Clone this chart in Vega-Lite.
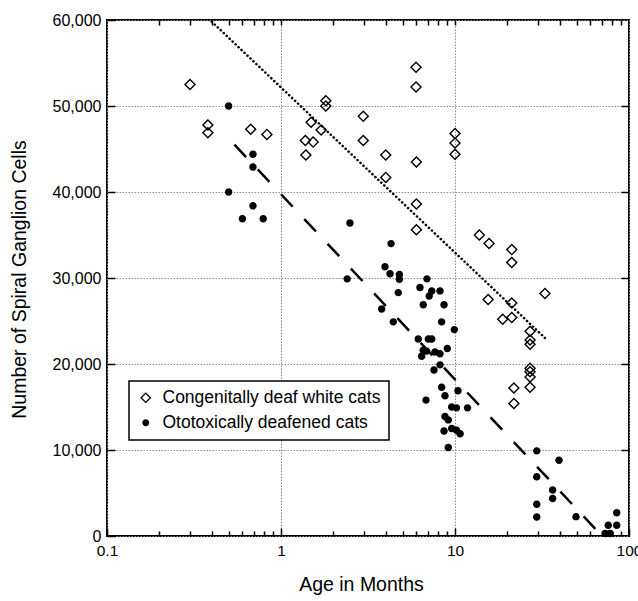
{
  "$schema": "https://vega.github.io/schema/vega-lite/v6.json",
  "width": 522,
  "height": 516,
  "autosize": {"type": "none"},
  "padding": {"left": 107, "top": 20, "right": 9, "bottom": 65},
  "background": "white",
  "config": {
    "view": {"stroke": "black", "strokeWidth": 2},
    "font": "Liberation Sans",
    "axis": {"domain": false, "labelFont": "Liberation Sans", "titleFont": "Liberation Sans", "labelColor": "black", "titleColor": "black", "tickColor": "black", "titleFontWeight": "normal", "gridColor": "#8a8a8a", "gridDash": [1.5, 1.5], "gridWidth": 1},
    "legend": {"orient": "none", "legendX": 22, "legendY": 361, "strokeColor": "black", "strokeWidth": 1.5, "fillColor": "white",
      "padding": 8, "labelFontSize": 17.5, "labelFont": "Liberation Sans", "labelColor": "black", "symbolFillColor": "black", "symbolStrokeWidth": 0, "symbolSize": 125, "rowPadding": 6, "labelOffset": 8, "labelLimit": 400}
  },
  "datasets": {
    "pts": [
      {"group": "Congenitally deaf white cats", "age": 0.30, "cells": 52500},
      {"group": "Congenitally deaf white cats", "age": 0.38, "cells": 47800},
      {"group": "Congenitally deaf white cats", "age": 0.38, "cells": 46900},
      {"group": "Congenitally deaf white cats", "age": 0.67, "cells": 47300},
      {"group": "Congenitally deaf white cats", "age": 0.83, "cells": 46700},
      {"group": "Congenitally deaf white cats", "age": 1.81, "cells": 50600},
      {"group": "Congenitally deaf white cats", "age": 1.81, "cells": 50000},
      {"group": "Congenitally deaf white cats", "age": 1.49, "cells": 48100},
      {"group": "Congenitally deaf white cats", "age": 1.70, "cells": 47200},
      {"group": "Congenitally deaf white cats", "age": 1.38, "cells": 46000},
      {"group": "Congenitally deaf white cats", "age": 1.53, "cells": 45800},
      {"group": "Congenitally deaf white cats", "age": 1.39, "cells": 44300},
      {"group": "Congenitally deaf white cats", "age": 2.97, "cells": 48800},
      {"group": "Congenitally deaf white cats", "age": 2.97, "cells": 46000},
      {"group": "Congenitally deaf white cats", "age": 5.97, "cells": 54500},
      {"group": "Congenitally deaf white cats", "age": 5.97, "cells": 52200},
      {"group": "Congenitally deaf white cats", "age": 4.0, "cells": 44300},
      {"group": "Congenitally deaf white cats", "age": 4.0, "cells": 41700},
      {"group": "Congenitally deaf white cats", "age": 6.0, "cells": 43500},
      {"group": "Congenitally deaf white cats", "age": 10.0, "cells": 46800},
      {"group": "Congenitally deaf white cats", "age": 10.0, "cells": 45700},
      {"group": "Congenitally deaf white cats", "age": 10.0, "cells": 44400},
      {"group": "Congenitally deaf white cats", "age": 6.0, "cells": 38600},
      {"group": "Congenitally deaf white cats", "age": 6.0, "cells": 35600},
      {"group": "Congenitally deaf white cats", "age": 13.8, "cells": 35000},
      {"group": "Congenitally deaf white cats", "age": 15.7, "cells": 34000},
      {"group": "Congenitally deaf white cats", "age": 21.2, "cells": 33300},
      {"group": "Congenitally deaf white cats", "age": 21.2, "cells": 31800},
      {"group": "Congenitally deaf white cats", "age": 32.9, "cells": 28200},
      {"group": "Congenitally deaf white cats", "age": 15.5, "cells": 27500},
      {"group": "Congenitally deaf white cats", "age": 21.2, "cells": 27100},
      {"group": "Congenitally deaf white cats", "age": 18.8, "cells": 25200},
      {"group": "Congenitally deaf white cats", "age": 21.2, "cells": 25400},
      {"group": "Congenitally deaf white cats", "age": 27.0, "cells": 23800},
      {"group": "Congenitally deaf white cats", "age": 27.0, "cells": 22800},
      {"group": "Congenitally deaf white cats", "age": 27.0, "cells": 22300},
      {"group": "Congenitally deaf white cats", "age": 27.0, "cells": 19500},
      {"group": "Congenitally deaf white cats", "age": 27.0, "cells": 19100},
      {"group": "Congenitally deaf white cats", "age": 27.0, "cells": 18500},
      {"group": "Congenitally deaf white cats", "age": 27.0, "cells": 17300},
      {"group": "Congenitally deaf white cats", "age": 21.8, "cells": 17200},
      {"group": "Congenitally deaf white cats", "age": 21.8, "cells": 15400},
      {"group": "Ototoxically deafened cats", "age": 0.50, "cells": 50000},
      {"group": "Ototoxically deafened cats", "age": 0.69, "cells": 44400},
      {"group": "Ototoxically deafened cats", "age": 0.69, "cells": 42900},
      {"group": "Ototoxically deafened cats", "age": 0.50, "cells": 40000},
      {"group": "Ototoxically deafened cats", "age": 0.69, "cells": 38400},
      {"group": "Ototoxically deafened cats", "age": 0.60, "cells": 36900},
      {"group": "Ototoxically deafened cats", "age": 0.79, "cells": 36900},
      {"group": "Ototoxically deafened cats", "age": 2.49, "cells": 36400},
      {"group": "Ototoxically deafened cats", "age": 2.40, "cells": 29900},
      {"group": "Ototoxically deafened cats", "age": 4.29, "cells": 34000},
      {"group": "Ototoxically deafened cats", "age": 3.96, "cells": 31300},
      {"group": "Ototoxically deafened cats", "age": 4.23, "cells": 30500},
      {"group": "Ototoxically deafened cats", "age": 4.79, "cells": 30400},
      {"group": "Ototoxically deafened cats", "age": 4.79, "cells": 29850},
      {"group": "Ototoxically deafened cats", "age": 6.9, "cells": 29900},
      {"group": "Ototoxically deafened cats", "age": 6.29, "cells": 28900},
      {"group": "Ototoxically deafened cats", "age": 7.35, "cells": 28500},
      {"group": "Ototoxically deafened cats", "age": 8.2, "cells": 28500},
      {"group": "Ototoxically deafened cats", "age": 4.72, "cells": 28300},
      {"group": "Ototoxically deafened cats", "age": 7.11, "cells": 27900},
      {"group": "Ototoxically deafened cats", "age": 6.57, "cells": 26900},
      {"group": "Ototoxically deafened cats", "age": 8.65, "cells": 26900},
      {"group": "Ototoxically deafened cats", "age": 3.79, "cells": 26400},
      {"group": "Ototoxically deafened cats", "age": 4.42, "cells": 24900},
      {"group": "Ototoxically deafened cats", "age": 8.38, "cells": 24900},
      {"group": "Ototoxically deafened cats", "age": 9.91, "cells": 24000},
      {"group": "Ototoxically deafened cats", "age": 6.15, "cells": 22900},
      {"group": "Ototoxically deafened cats", "age": 7.03, "cells": 22900},
      {"group": "Ototoxically deafened cats", "age": 7.35, "cells": 22900},
      {"group": "Ototoxically deafened cats", "age": 9.03, "cells": 21800},
      {"group": "Ototoxically deafened cats", "age": 6.57, "cells": 21600},
      {"group": "Ototoxically deafened cats", "age": 6.87, "cells": 21500},
      {"group": "Ototoxically deafened cats", "age": 6.43, "cells": 20900},
      {"group": "Ototoxically deafened cats", "age": 7.67, "cells": 21400},
      {"group": "Ototoxically deafened cats", "age": 8.2, "cells": 21200},
      {"group": "Ototoxically deafened cats", "age": 8.2, "cells": 19900},
      {"group": "Ototoxically deafened cats", "age": 7.57, "cells": 19300},
      {"group": "Ototoxically deafened cats", "age": 8.38, "cells": 17300},
      {"group": "Ototoxically deafened cats", "age": 10.4, "cells": 16900},
      {"group": "Ototoxically deafened cats", "age": 8.76, "cells": 16300},
      {"group": "Ototoxically deafened cats", "age": 6.81, "cells": 15800},
      {"group": "Ototoxically deafened cats", "age": 9.57, "cells": 15000},
      {"group": "Ototoxically deafened cats", "age": 10.2, "cells": 14900},
      {"group": "Ototoxically deafened cats", "age": 11.8, "cells": 14900},
      {"group": "Ototoxically deafened cats", "age": 8.76, "cells": 13900},
      {"group": "Ototoxically deafened cats", "age": 9.15, "cells": 13500},
      {"group": "Ototoxically deafened cats", "age": 8.65, "cells": 12200},
      {"group": "Ototoxically deafened cats", "age": 9.57, "cells": 12500},
      {"group": "Ototoxically deafened cats", "age": 10.2, "cells": 12300},
      {"group": "Ototoxically deafened cats", "age": 10.7, "cells": 11900},
      {"group": "Ototoxically deafened cats", "age": 9.15, "cells": 10300},
      {"group": "Ototoxically deafened cats", "age": 29.5, "cells": 9900},
      {"group": "Ototoxically deafened cats", "age": 39.6, "cells": 8800},
      {"group": "Ototoxically deafened cats", "age": 29.5, "cells": 6900},
      {"group": "Ototoxically deafened cats", "age": 36.4, "cells": 5350},
      {"group": "Ototoxically deafened cats", "age": 36.4, "cells": 4350},
      {"group": "Ototoxically deafened cats", "age": 29.5, "cells": 3700},
      {"group": "Ototoxically deafened cats", "age": 29.5, "cells": 2200},
      {"group": "Ototoxically deafened cats", "age": 49.6, "cells": 2250},
      {"group": "Ototoxically deafened cats", "age": 76, "cells": 1250},
      {"group": "Ototoxically deafened cats", "age": 85, "cells": 1250},
      {"group": "Ototoxically deafened cats", "age": 85, "cells": 2700},
      {"group": "Ototoxically deafened cats", "age": 73, "cells": 300},
      {"group": "Ototoxically deafened cats", "age": 78, "cells": 300}
    ],
    "fits": [
      {"fit": "congenital", "age": 0.40, "cells": 59800},
      {"fit": "congenital", "age": 33, "cells": 23000},
      {"fit": "ototoxic", "age": 0.54, "cells": 45500},
      {"fit": "ototoxic", "age": 70, "cells": 0}
    ]
  },
  "resolve": {"axis": {"x": "independent", "y": "independent"}},
  "layer": [
    {
      "data": {"name": "fits"},
      "transform": [{"filter": "datum.fit === 'congenital'"}],
      "mark": {"type": "line", "color": "black", "strokeWidth": 2.5, "strokeCap": "round", "strokeDash": [0.2, 3.9], "clip": true},
      "encoding": {
        "x": {"field": "age", "type": "quantitative", "scale": {"type": "log", "domain": [0.1, 100], "nice": false},
          "axis": {"orient": "top", "labels": false, "grid": false, "title": null, "tickSize": -5, "tickWidth": 1.5,
            "values": [0.2, 0.3, 0.4, 0.5, 0.6, 0.7, 0.8, 0.9, 1, 2, 3, 4, 5, 6, 7, 8, 9, 10, 20, 30, 40, 50, 60, 70, 80, 90]}},
        "y": {"field": "cells", "type": "quantitative", "scale": {"domain": [0, 60000], "nice": false},
          "axis": {"orient": "right", "labels": false, "grid": false, "title": null, "tickSize": -8, "tickWidth": 1.5,
            "values": [10000, 20000, 30000, 40000, 50000]}}
      }
    },
    {
      "data": {"name": "fits"},
      "transform": [{"filter": "datum.fit === 'ototoxic'"}],
      "mark": {"type": "line", "color": "black", "strokeWidth": 2.5, "strokeDash": [17, 17], "clip": true},
      "encoding": {
        "x": {"field": "age", "type": "quantitative",
          "axis": {"orient": "bottom", "labels": false, "grid": false, "title": null, "tickSize": -5, "tickWidth": 1.5,
            "values": [0.2, 0.3, 0.4, 0.5, 0.6, 0.7, 0.8, 0.9, 2, 3, 4, 5, 6, 7, 8, 9, 20, 30, 40, 50, 60, 70, 80, 90]}},
        "y": {"field": "cells", "type": "quantitative", "axis": null}
      }
    },
    {
      "data": {"name": "pts"},
      "mark": {"type": "point", "filled": true, "color": "black", "strokeWidth": 0, "size": 144, "opacity": 1},
      "encoding": {
        "x": {"field": "age", "type": "quantitative",
          "axis": {"orient": "bottom", "title": "Age in Months", "titleFontSize": 19.5, "titleX": 254, "titleY": 54, "titleBaseline": "alphabetic",
            "values": [0.1, 1, 10, 100], "format": "~g", "labelFlush": false, "labelFontSize": 15.5, "labelPadding": 15,
            "tickSize": -8, "tickWidth": 1.5, "grid": true}},
        "y": {"field": "cells", "type": "quantitative",
          "axis": {"orient": "left", "title": "Number of Spiral Ganglion Cells", "titleFontSize": 19.5, "titleX": -88, "titleY": 259, "titleBaseline": "middle",
            "values": [0, 10000, 20000, 30000, 40000, 50000, 60000], "format": ",.0f", "labelFontSize": 16, "labelPadding": 14,
            "tickSize": -8, "tickWidth": 1.5, "grid": true}},
        "shape": {"field": "group", "type": "nominal", "title": null,
          "scale": {"domain": ["Congenitally deaf white cats", "Ototoxically deafened cats"],
            "range": ["M0,-1L1,0L0,1L-1,0ZM0,-0.67L-0.67,0L0,0.67L0.67,0Z", "M-0.62,0A0.62,0.62 0 1,0 0.62,0A0.62,0.62 0 1,0 -0.62,0Z"]}}
      }
    }
  ]
}
